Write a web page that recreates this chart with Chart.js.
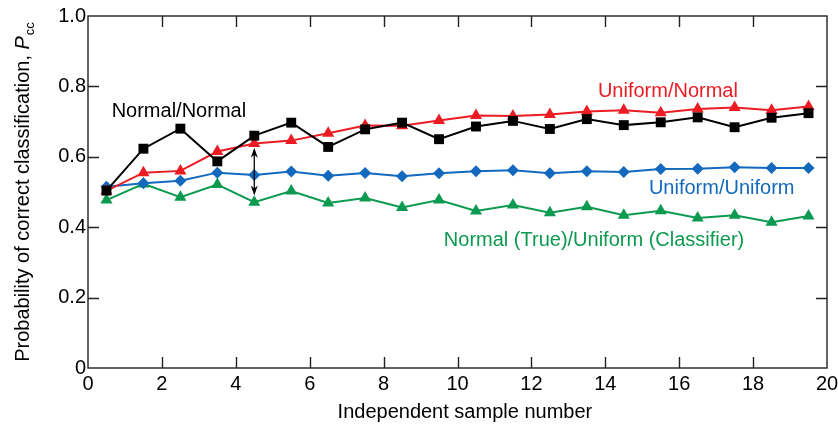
<!DOCTYPE html>
<html>
<head>
<meta charset="utf-8">
<script src="https://cdn.jsdelivr.net/npm/chart.js@4.4.1/dist/chart.umd.min.js"></script>
<style>
  html, body { margin: 0; padding: 0; background: #fff; }
  #wrap { width: 838px; height: 428px; }
</style>
</head>
<body>
<div id="wrap"><canvas id="pcc"></canvas></div>
<script>
// sample positions (mid-bin) and tick values
const sampleX = [0.5, 1.5, 2.5, 3.5, 4.5, 5.5, 6.5, 7.5, 8.5, 9.5, 10.5, 11.5, 12.5, 13.5, 14.5, 15.5, 16.5, 17.5, 18.5, 19.5];
const xTicks = [0, 2, 4, 6, 8, 10, 12, 14, 16, 18, 20];
const yTicks = [0, 0.2, 0.4, 0.6, 0.8, 1.0];

// probability of correct classification per series
const normalNormal = [0.504, 0.623, 0.680, 0.587, 0.660, 0.697, 0.628, 0.678, 0.697, 0.650, 0.686, 0.702, 0.679, 0.707, 0.690, 0.698, 0.712, 0.684, 0.711, 0.724];
const uniformNormal = [0.503, 0.555, 0.560, 0.615, 0.638, 0.646, 0.667, 0.689, 0.688, 0.703, 0.717, 0.716, 0.720, 0.729, 0.732, 0.725, 0.736, 0.740, 0.732, 0.743];
const uniformUniform = [0.515, 0.525, 0.532, 0.555, 0.548, 0.558, 0.546, 0.554, 0.545, 0.553, 0.559, 0.562, 0.553, 0.559, 0.557, 0.565, 0.566, 0.570, 0.568, 0.568];
const normalTrueUniform = [0.477, 0.523, 0.485, 0.521, 0.471, 0.503, 0.469, 0.483, 0.456, 0.477, 0.446, 0.463, 0.441, 0.458, 0.434, 0.447, 0.426, 0.434, 0.414, 0.432];

const seriesNames = ['Normal/Normal', 'Uniform/Normal', 'Uniform/Uniform', 'Normal (True)/Uniform (Classifier)'];

// the gap marked by the double arrow
const arrowSample = 4.5;
const arrowRange = [0.490, 0.626];

const FONT = '"Liberation Sans", Arial, Helvetica, sans-serif';
const colors = ['#000000', '#ec1c24', '#1269bd', '#0c9a50'];

const toPoints = ys => ys.map((y, i) => ({ x: sampleX[i], y: y }));

function makeSet(label, ys, color, style, radius) {
    return {
        label: label,
        data: toPoints(ys),
        borderColor: color,
        backgroundColor: color,
        borderWidth: 2,
        pointStyle: style,
        pointRadius: radius,
        pointHoverRadius: radius,
        pointBorderWidth: 0,
        tension: 0
    };
}

// inline labels next to the curves: [x, y] in data units
const labelAnchors = [[0.64, 0.712], [13.8, 0.771], [15.18, 0.494], [9.63, 0.347]];

const framePlugin = {
    id: 'frame',
    afterDraw(chart) {
        const { ctx, chartArea: a, scales } = chart;
        ctx.save();
        ctx.strokeStyle = '#222';
        ctx.lineWidth = 1.4;
        ctx.strokeRect(a.left, a.top, a.right - a.left, a.bottom - a.top);
        const len = 11;
        ctx.beginPath();
        xTicks.slice(1, -1).forEach(v => {
            const px = Math.round(scales.x.getPixelForValue(v)) + 0.5;
            ctx.moveTo(px, a.bottom); ctx.lineTo(px, a.bottom - len);
            ctx.moveTo(px, a.top); ctx.lineTo(px, a.top + len);
        });
        yTicks.slice(1, -1).forEach(v => {
            const py = Math.round(scales.y.getPixelForValue(v)) + 0.5;
            ctx.moveTo(a.left, py); ctx.lineTo(a.left + len, py);
            ctx.moveTo(a.right, py); ctx.lineTo(a.right - len, py);
        });
        ctx.stroke();

        // double arrow
        const ax = scales.x.getPixelForValue(arrowSample);
        const y1 = scales.y.getPixelForValue(arrowRange[1]);
        const y0 = scales.y.getPixelForValue(arrowRange[0]);
        ctx.strokeStyle = '#000';
        ctx.fillStyle = '#000';
        ctx.lineWidth = 1.3;
        ctx.beginPath();
        ctx.moveTo(ax, y1 + 6); ctx.lineTo(ax, y0 - 6);
        ctx.stroke();
        [[y1, 1], [y0, -1]].forEach(([tip, dir]) => {
            ctx.beginPath();
            ctx.moveTo(ax, tip);
            ctx.lineTo(ax - 3.5, tip + dir * 10);
            ctx.lineTo(ax, tip + dir * 7);
            ctx.lineTo(ax + 3.5, tip + dir * 10);
            ctx.closePath();
            ctx.fill();
        });

        // curve labels
        ctx.font = '20px ' + FONT;
        ctx.textBaseline = 'alphabetic';
        ctx.textAlign = 'left';
        seriesNames.forEach((name, i) => {
            ctx.fillStyle = colors[i];
            ctx.fillText(name, scales.x.getPixelForValue(labelAnchors[i][0]), scales.y.getPixelForValue(labelAnchors[i][1]));
        });

        // x axis title
        ctx.fillStyle = '#000';
        ctx.textAlign = 'center';
        ctx.fillText('Independent sample number', scales.x.getPixelForValue(10.2), a.bottom + 50);
        ctx.textAlign = 'left';

        // y axis title with italic P and subscript cc
        const cy = (a.top + a.bottom) / 2;
        ctx.translate(29, cy);
        ctx.rotate(-Math.PI / 2);
        const main = 'Probability of correct classification, ';
        ctx.font = '20px ' + FONT;
        const w1 = ctx.measureText(main).width;
        ctx.font = 'italic 20px ' + FONT;
        const w2 = ctx.measureText('P').width;
        ctx.font = '13px ' + FONT;
        const w3 = ctx.measureText('cc').width;
        let x0 = -(w1 + w2 + w3 + 1) / 2;
        ctx.font = '20px ' + FONT;
        ctx.fillText(main, x0, 0);
        ctx.font = 'italic 20px ' + FONT;
        ctx.fillText('P', x0 + w1, 0);
        ctx.font = '13px ' + FONT;
        ctx.fillText('cc', x0 + w1 + w2 + 1, 5);
        ctx.restore();
    }
};

const ctx = document.getElementById('pcc');
new Chart(ctx, {
    type: 'line',
    data: {
        datasets: [
            makeSet(seriesNames[0], normalNormal, colors[0], 'rect', 7),
            makeSet(seriesNames[1], uniformNormal, colors[1], 'triangle', 7),
            makeSet(seriesNames[2], uniformUniform, colors[2], 'rectRot', 6),
            makeSet(seriesNames[3], normalTrueUniform, colors[3], 'triangle', 7)
        ]
    },
    options: {
        responsive: true, maintainAspectRatio: false,
        animation: false,
        layout: { padding: { top: 16, right: 0, left: 0, bottom: 0 } },
        scales: {
            x: {
                type: 'linear', min: 0, max: 20,
                afterBuildTicks: s => { s.ticks = xTicks.map(v => ({ value: v })); },
                afterFit: s => { s.height = 60; s.paddingRight = 11; s.paddingLeft = 0; },
                grid: { display: false, drawTicks: false },
                border: { display: false },
                ticks: { padding: 4, color: '#000', font: { family: FONT, size: 20 } }
            },
            y: {
                min: 0, max: 1,
                afterBuildTicks: s => { s.ticks = yTicks.map(v => ({ value: v })); },
                afterFit: s => { s.width = 88; },
                grid: { display: false, drawTicks: false },
                border: { display: false },
                ticks: {
                    padding: 2, color: '#000', font: { family: FONT, size: 20 },
                    callback: v => v === 0 ? '0' : v.toFixed(1)
                }
            }
        },
        plugins: { legend: { display: false }, tooltip: { enabled: false } }
    },
    plugins: [framePlugin]
});
</script>
</body>
</html>
